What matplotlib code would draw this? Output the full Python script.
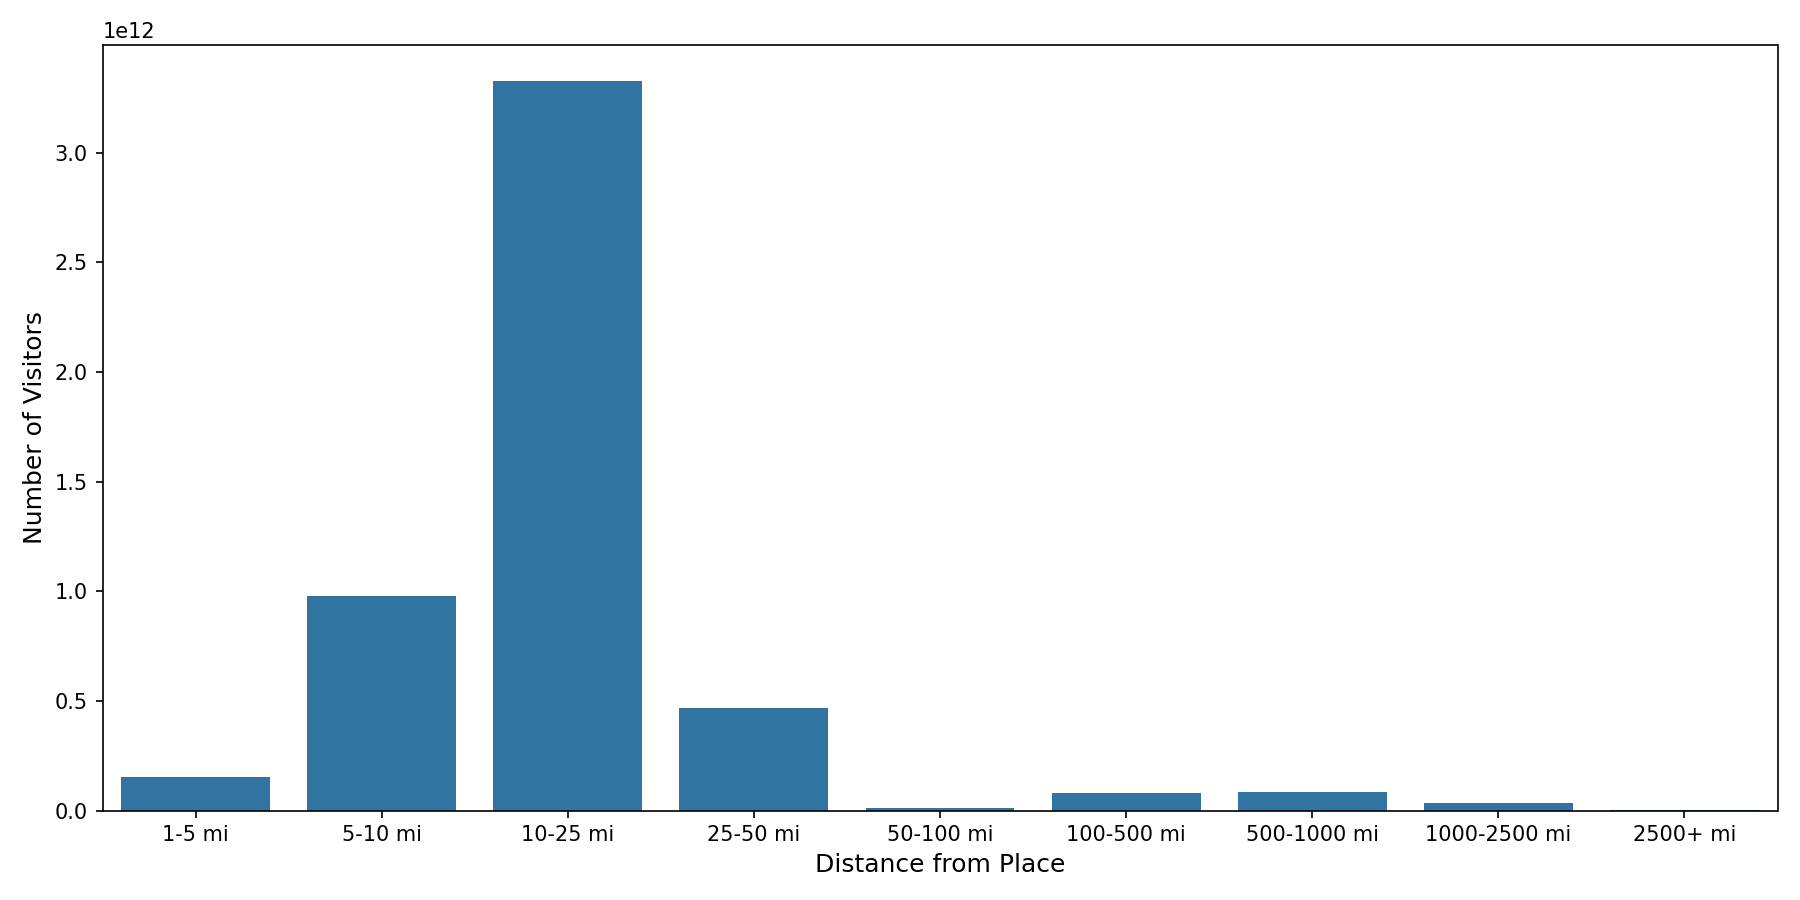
import matplotlib
matplotlib.use("Agg")
import matplotlib.pyplot as plt

categories = ["1-5 mi", "5-10 mi", "10-25 mi", "25-50 mi", "50-100 mi",
              "100-500 mi", "500-1000 mi", "1000-2500 mi", "2500+ mi"]
visitors = [0.155e12, 0.98e12, 3.326e12, 0.47e12, 0.01e12,
            0.08e12, 0.085e12, 0.033e12, 0.001e12]

fig, ax = plt.subplots(figsize=(12, 6), dpi=150)
ax.bar(range(len(categories)), visitors, width=0.8, color="#3274a1")
ax.set_xticks(range(len(categories)))
ax.set_xticklabels(categories)
ax.set_xlim(-0.5, len(categories) - 0.5)
ax.set_xlabel("Distance from Place", fontsize=12)
ax.set_ylabel("Number of Visitors", fontsize=12)
plt.tight_layout()
plt.savefig("out.png")
